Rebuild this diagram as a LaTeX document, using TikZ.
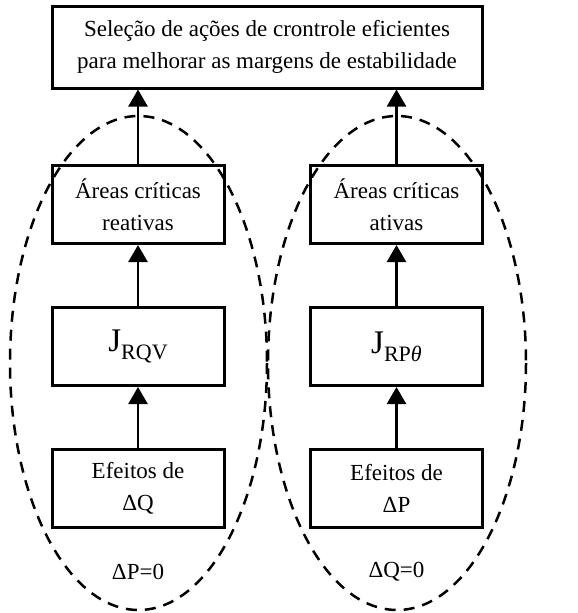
\documentclass[tikz,border=0pt]{standalone}
\usepackage{fontspec}
\setmainfont{Liberation Serif}
\usetikzlibrary{arrows.meta,positioning}

\begin{document}
\begin{tikzpicture}[x=1pt,y=-1pt,node distance=142pt,on grid,
	box/.style={draw,line width=3pt,minimum width=172pt,minimum height=78pt,align=center,
		font=\fontsize{23}{32}\selectfont},
	seta/.style={line width=2.5pt,-{Triangle[length=17pt,width=19pt]}},
	grupo/.style={line width=2.5pt,dash pattern=on 11pt off 8pt}]
	\useasboundingbox (0,0) rectangle (578,613);
	\node[box,minimum width=430pt,minimum height=82pt](sel) at (267,47)
		{Seleção de ações de crontrole eficientes\\para melhorar as margens de estabilidade};
	\node[box](areasR) at (138,204.5) {Áreas críticas\\reativas};
	\node[box](jrqv)[below=of areasR] {{\fontsize{33}{33}\selectfont J}\raisebox{-8pt}{\fontsize{22}{22}\selectfont RQV}};
	\node[box](efQ)[below=of jrqv] {Efeitos de\\ΔQ};
	\node[box](areasA) at (396.5,204.5) {Áreas críticas\\ativas};
	\node[box](jrpt)[below=of areasA] {{\fontsize{33}{33}\selectfont J}\raisebox{-8pt}{\fontsize{22}{22}\selectfont RP\textit{θ}}};
	\node[box](efP)[below=of jrpt] {Efeitos de\\ΔP};
	\node[font=\fontsize{23}{26}\selectfont](condQ) at (138,572) {ΔP=0};
	\node[font=\fontsize{23}{26}\selectfont](condP) at (396.5,572) {ΔQ=0};
	% grupos
	\draw[grupo] (138.5,363) ellipse [x radius=128.5, y radius=247];
	\draw[grupo] (397,363) ellipse [x radius=129, y radius=247];
	% setas
	\draw[seta] (efQ) -- (jrqv);
	\draw[seta] (jrqv) -- (areasR);
	\draw[seta] (areasR) -- (areasR |- sel.south);
	\draw[seta] (efP) -- (jrpt);
	\draw[seta] (jrpt) -- (areasA);
	\draw[seta] (areasA) -- (areasA |- sel.south);
\end{tikzpicture}
\end{document}
